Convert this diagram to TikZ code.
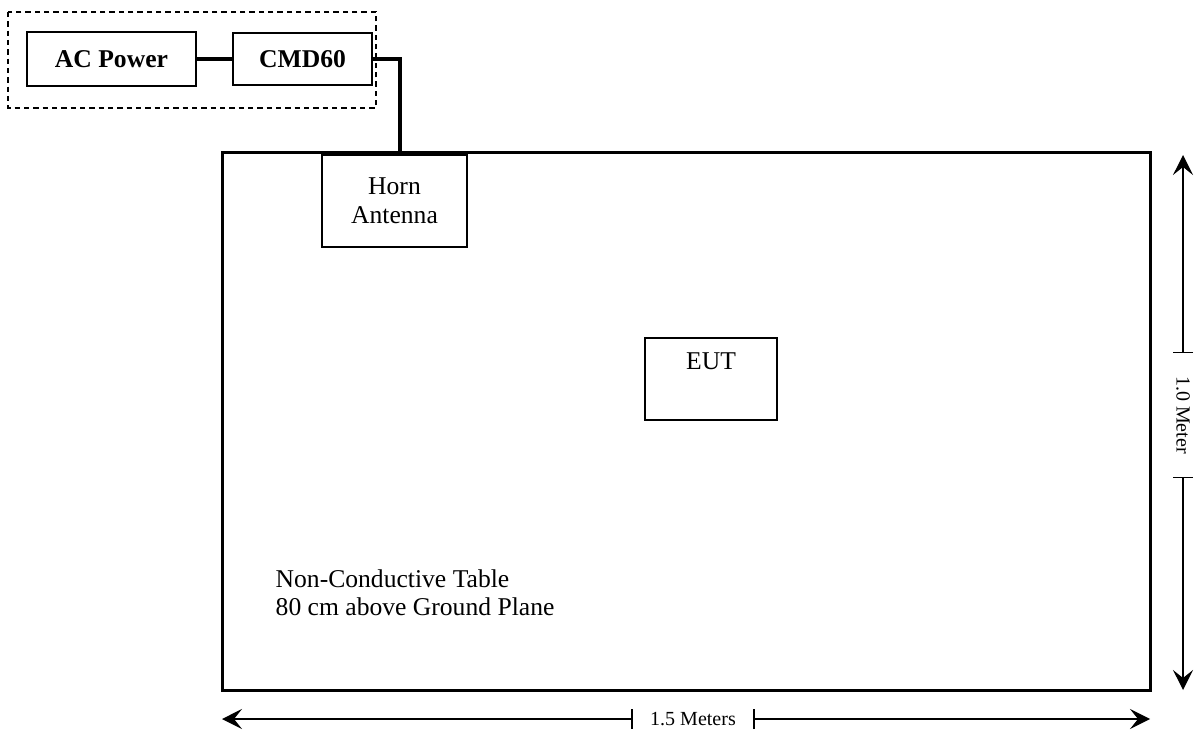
\documentclass[tikz,border=0pt]{standalone}
\usepackage{fontspec}
\setmainfont{Liberation Serif}
\usetikzlibrary{arrows.meta}

\newcommand{\mainsize}{\fontsize{19.2}{21}\selectfont}
\newcommand{\dimsize}{\fontsize{15}{17}\selectfont}

\tikzset{
	box/.style={draw, line width=1.5pt, inner sep=0pt, font=\mainsize},
	cable/.style={line width=2.4pt},
	dimline/.style={line width=1.1pt, {Stealth[length=15pt,width=15pt,inset=6pt]}-{Bar[width=15pt]}},
	dimtext/.style={font=\dimsize, inner xsep=13pt, inner ysep=0pt},
}

\begin{document}
\begin{tikzpicture}[x=0.75pt,y=-0.75pt]

\useasboundingbox (0,0) rectangle (1195,734);

% test equipment
\draw [line width=1pt, dash pattern=on 4pt off 3pt] (8,12) rectangle (376,108);
\node [box, minimum width=126.75pt, minimum height=40.5pt] (acpower) at (111.5,59) {\bfseries AC Power};
\node [box, minimum width=104.25pt, minimum height=39pt] (cmd) at (302.5,59) {\bfseries CMD60};

% table with antenna and EUT
\node [box, line width=2.25pt, minimum width=696pt, minimum height=402.75pt] (table) at (686,421.5) {};
\node [box, minimum width=108.75pt, minimum height=69pt, align=center] (horn) at (394.5,201) {Horn\\[1pt]Antenna};
\node [box, minimum width=99pt, minimum height=61.5pt,
	label={[font=\mainsize, anchor=north, yshift=-8pt]north:EUT}] (eut) at (711,379) {};
\node [font=\mainsize, anchor=west, align=left] (tabletext) at (271,593) {Non-Conductive Table\\80 cm above Ground Plane};

\coordinate (feed) at (400,153);
\draw [cable] (acpower) -- (cmd);
\draw [cable] (cmd.east) -| (feed);

% dimensions
\coordinate (wl) at (222,719);
\coordinate (wr) at (1150,719);
\node [dimtext] (wlabel) at (693,719) {1.5 Meters};
\draw [dimline] (wl) -- (wlabel.west);
\draw [dimline] (wr) -- (wlabel.east);

\coordinate (ht) at (1183,155);
\coordinate (hb) at (1183,690);
\node [dimtext, inner xsep=17pt, rotate=-90] (hlabel) at (1183,415) {1.0 Meter};
\draw [dimline] (ht) -- (hlabel.west);
\draw [dimline] (hb) -- (hlabel.east);

\end{tikzpicture}
\end{document}
